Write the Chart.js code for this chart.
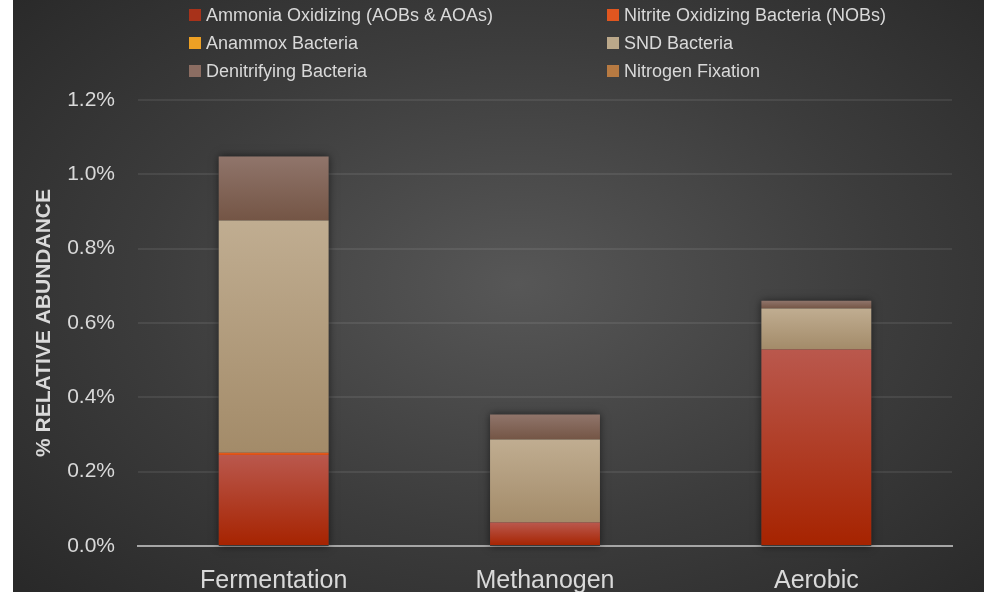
<!DOCTYPE html>
<html>
<head>
<meta charset="utf-8">
<script src="https://cdn.jsdelivr.net/npm/chart.js@4.4.1/dist/chart.umd.min.js"></script>
<style>
  html, body { margin: 0; padding: 0; background: #fff; overflow: hidden; }
  #frame {
    position: absolute; left: 13px; top: 0; width: 971px; height: 592px; overflow: hidden;
    background: radial-gradient(ellipse 70% 75% at 52% 48%, #575757 0%, #3c3c3c 55%, #292929 100%);
  }
  #chart { position: absolute; left: 0; top: 0; }
  .legend-item {
    position: absolute; height: 20px; display: flex; align-items: center;
    font-family: "Liberation Sans", Arial, sans-serif; font-size: 18px; color: #d9d9d9;
    white-space: nowrap;
  }
  .legend-item .box { width: 12px; height: 12px; margin-right: 5px; }
</style>
</head>
<body>
<div id="frame">
  <canvas id="chart" width="971" height="616"></canvas>
  <div id="legend"></div>
</div>
<script>
// Data
const categories = ['Fermentation', 'Methanogen', 'Aerobic'];
const seriesNames = [
  'Ammonia Oxidizing (AOBs & AOAs)',
  'Nitrite Oxidizing Bacteria (NOBs)',
  'Anammox Bacteria',
  'SND Bacteria',
  'Denitrifying Bacteria',
  'Nitrogen Fixation'
];
const ammonia = [0.245, 0.063, 0.529];
const nitrite = [0.006, 0, 0];
const anammox = [0, 0, 0];
const snd = [0.625, 0.2235, 0.110];
const denitrifying = [0.172, 0.0675, 0.021];
const fixation = [0, 0, 0];
const yTicks = [0, 0.2, 0.4, 0.6, 0.8, 1.0, 1.2];

const seriesValues = [ammonia, nitrite, anammox, snd, denitrifying, fixation];
const legendColours = ['#a8321a', '#e0561f', '#eda024', '#bba88a', '#8b6d62', '#b77a42'];
const gradColours = [
  ['#ba584d', '#a62300'],
  ['#e8601f', '#d84c14'],
  ['#f0a030', '#e08c10'],
  ['#c0ad91', '#a38b69'],
  ['#90756b', '#745545'],
  ['#c08a50', '#a86c30']
];

const textColour = '#d9d9d9';
const font = '"Liberation Sans", Arial, sans-serif';

// gradient per stacked segment, lighter at the top of each segment
function segmentFill(dsIndex) {
  return (ctx) => {
    const chart = ctx.chart;
    const y = chart.scales.y;
    if (ctx.type !== 'data' || !chart.chartArea || !y) return legendColours[dsIndex];
    let base = 0;
    for (let k = 0; k < dsIndex; k++) base += seriesValues[k][ctx.dataIndex];
    const top = base + seriesValues[dsIndex][ctx.dataIndex];
    const y0 = y.getPixelForValue(top);
    const y1 = y.getPixelForValue(base);
    if (!(y1 - y0 > 0.5)) return gradColours[dsIndex][0];
    const g = chart.ctx.createLinearGradient(0, y0, 0, y1);
    g.addColorStop(0, gradColours[dsIndex][0]);
    g.addColorStop(1, gradColours[dsIndex][1]);
    return g;
  };
}

// soft shadow behind each whole stack
const stackShadow = {
  id: 'stackShadow',
  beforeDatasetsDraw(chart) {
    const ctx = chart.ctx;
    const y = chart.scales.y;
    const meta = chart.getDatasetMeta(0);
    ctx.save();
    ctx.shadowColor = 'rgba(0,0,0,0.55)';
    ctx.shadowBlur = 8;
    ctx.fillStyle = '#3a3a3a';
    meta.data.forEach((bar, i) => {
      let total = 0;
      seriesValues.forEach((s) => total += s[i]);
      const top = y.getPixelForValue(total);
      const bottom = y.getPixelForValue(0);
      ctx.fillRect(bar.x - bar.width / 2, top, bar.width, bottom - top);
    });
    ctx.restore();
  }
};

const datasets = seriesNames.map((name, i) => ({
  label: name,
  data: seriesValues[i],
  backgroundColor: segmentFill(i),
  borderWidth: 0,
  categoryPercentage: 1,
  barPercentage: 0.405
}));

const chart = new Chart(document.getElementById('chart').getContext('2d'), {
  type: 'bar',
  data: { labels: categories, datasets: datasets },
  plugins: [stackShadow],
  options: {
    responsive: false,
    animation: false,
    layout: { padding: { top: 100, left: 16, right: 32, bottom: 0 } },
    plugins: { legend: { display: false }, tooltip: { enabled: false } },
    scales: {
      x: {
        stacked: true,
        grid: { display: false, drawTicks: false },
        border: { display: true, color: '#a6a6a6', width: 2 },
        ticks: { color: textColour, font: { family: font, size: 25 }, padding: 20 }
      },
      y: {
        stacked: true,
        min: 0,
        max: 1.2,
        afterBuildTicks: (scale) => { scale.ticks = yTicks.map((v) => ({ value: v })); },
        afterFit: (scale) => { scale.width = 109; },
        grid: { color: 'rgba(255,255,255,0.08)', lineWidth: 2, drawTicks: false },
        border: { display: false },
        ticks: {
          color: textColour,
          font: { family: font, size: 21 },
          padding: 23,
          callback: (v) => Number(v).toFixed(1) + '%'
        },
        title: {
          display: true,
          text: '% RELATIVE ABUNDANCE',
          color: textColour,
          font: { family: font, size: 21, weight: 'bold' },
          padding: { top: 3, bottom: 0 }
        }
      }
    }
  }
});

// two-column legend like the original
const legendEl = document.getElementById('legend');
const colLeft = [176, 594];
chart.data.datasets.forEach((ds, i) => {
  const item = document.createElement('div');
  item.className = 'legend-item';
  item.style.left = colLeft[i % 2] + 'px';
  item.style.top = (5 + 28 * Math.floor(i / 2)) + 'px';
  const box = document.createElement('span');
  box.className = 'box';
  box.style.background = legendColours[i];
  const label = document.createElement('span');
  label.textContent = ds.label;
  item.appendChild(box);
  item.appendChild(label);
  legendEl.appendChild(item);
});
</script>
</body>
</html>
